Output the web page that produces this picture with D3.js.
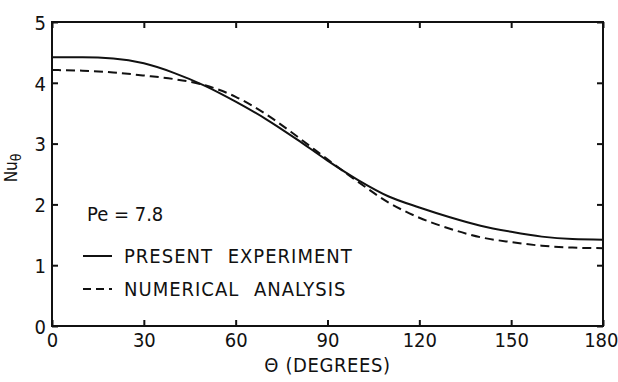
<!DOCTYPE html>
<html>
<head>
<meta charset="utf-8">
<script src="https://cdn.jsdelivr.net/npm/d3@7"></script>
<style>
	body { margin: 0; background: #fff; }
	text { font-family: "Liberation Sans Narrow", "DejaVu Sans Condensed", "Roboto Condensed", sans-serif; font-stretch: condensed; fill: #111; }
</style>
</head>
<body>
<svg id="chart" width="618" height="382"></svg>
<script>
// angle (degrees) and Nu_theta
var angles = [ 0, 10, 20, 30, 40, 50, 60, 70, 80, 90, 100, 110, 120, 130, 140, 150, 160, 170, 180 ];
var present = [ 4.42, 4.42, 4.40, 4.32, 4.16, 3.95, 3.69, 3.40, 3.07, 2.72, 2.40, 2.13, 1.95, 1.79, 1.65, 1.55, 1.47, 1.43, 1.42 ];
var numerical = [ 4.21, 4.20, 4.17, 4.12, 4.06, 3.96, 3.77, 3.48, 3.12, 2.74, 2.37, 2.03, 1.78, 1.60, 1.46, 1.38, 1.32, 1.29, 1.28 ];
var xTicks = [ 0, 30, 60, 90, 120, 150, 180 ];
var yTicks = [ 0, 1, 2, 3, 4, 5 ];

var svg = d3.select( '#chart' );

var x = d3.scaleLinear().domain( [ 0, 180 ] ).range( [ 52, 603 ] );
var y = d3.scaleLinear().domain( [ 0, 5 ] ).range( [ 326, 22 ] );

// frame
svg.append( 'rect' )
	.attr( 'x', x( 0 ) ).attr( 'y', y( 5 ) )
	.attr( 'width', x( 180 ) - x( 0 ) ).attr( 'height', y( 0 ) - y( 5 ) )
	.attr( 'fill', 'none' ).attr( 'stroke', '#111' ).attr( 'stroke-width', 2 );

// inward ticks on all four sides
var tickLen = 6;
function noLabels( axis ) {
	return axis.tickSizeOuter( 0 ).tickSizeInner( -tickLen ).tickFormat( '' );
}
var bottom = svg.append( 'g' ).attr( 'transform', 'translate(0,' + y( 0 ) + ')' )
	.call( d3.axisBottom( x ).tickValues( xTicks ).tickFormat( d3.format( 'd' ) )
		.tickSizeOuter( 0 ).tickSizeInner( -tickLen ).tickPadding( 7 ) );
svg.append( 'g' ).attr( 'transform', 'translate(0,' + y( 5 ) + ')' )
	.call( noLabels( d3.axisTop( x ).tickValues( xTicks ) ) );
var left = svg.append( 'g' ).attr( 'transform', 'translate(' + x( 0 ) + ',0)' )
	.call( d3.axisLeft( y ).tickValues( yTicks ).tickFormat( d3.format( 'd' ) )
		.tickSizeOuter( 0 ).tickSizeInner( -tickLen ).tickPadding( 6 ) );
svg.append( 'g' ).attr( 'transform', 'translate(' + x( 180 ) + ',0)' )
	.call( noLabels( d3.axisRight( y ).tickValues( yTicks ) ) );

svg.selectAll( '.domain' ).remove();
svg.selectAll( '.tick line' ).attr( 'stroke', '#111' ).attr( 'stroke-width', 2 );
bottom.selectAll( 'text' ).style( 'font-size', '20px' );
left.selectAll( 'text' ).style( 'font-size', '20px' ).attr( 'dy', '0.36em' );
svg.selectAll( 'g' ).attr( 'font-family', null ).attr( 'font-size', null );

// keep the last x label inside the picture, as in the original
bottom.selectAll( '.tick' ).filter( function ( d ) { return d === 180; } )
	.select( 'text' ).attr( 'text-anchor', 'end' ).attr( 'x', 15 );

// curves
var line = d3.line()
	.x( function ( d, i ) { return x( angles[i] ); } )
	.y( function ( d ) { return y( d ); } )
	.curve( d3.curveMonotoneX );

svg.append( 'path' ).attr( 'd', line( present ) )
	.attr( 'fill', 'none' ).attr( 'stroke', '#111' ).attr( 'stroke-width', 2 );
svg.append( 'path' ).attr( 'd', line( numerical ) )
	.attr( 'fill', 'none' ).attr( 'stroke', '#111' ).attr( 'stroke-width', 2 )
	.attr( 'stroke-dasharray', '9,5' );

// axis titles
svg.append( 'text' )
	.attr( 'x', x( 90 ) ).attr( 'y', 372 )
	.attr( 'text-anchor', 'middle' ).style( 'font-size', '20px' ).style( 'letter-spacing', '0.6px' )
	.text( 'Θ (DEGREES)' );

var yTitle = svg.append( 'text' )
	.attr( 'transform', 'translate(17,' + y( 2.6 ) + ') rotate(-90)' )
	.attr( 'text-anchor', 'middle' ).style( 'font-size', '17px' );
yTitle.append( 'tspan' ).text( 'Nu' );
yTitle.append( 'tspan' ).attr( 'dy', 4 ).style( 'font-size', '14px' ).text( 'θ' );

// legend
svg.append( 'text' ).attr( 'x', 87 ).attr( 'y', 221 ).style( 'font-size', '20px' ).text( 'Pe = 7.8' );

var legend = [ { label: 'PRESENT EXPERIMENT', dash: null, yy: 256 },
	{ label: 'NUMERICAL ANALYSIS', dash: '8,5', yy: 289 } ];
legend.forEach( function ( d ) {
	svg.append( 'line' )
		.attr( 'x1', 83 ).attr( 'x2', 112 ).attr( 'y1', d.yy ).attr( 'y2', d.yy )
		.attr( 'stroke', '#111' ).attr( 'stroke-width', 2 )
		.attr( 'stroke-dasharray', d.dash );
	svg.append( 'text' ).attr( 'x', 124 ).attr( 'y', d.yy + 7 )
		.style( 'font-size', '20px' ).style( 'letter-spacing', '1px' ).style( 'word-spacing', '8px' )
		.text( d.label );
} );
</script>
</body>
</html>
